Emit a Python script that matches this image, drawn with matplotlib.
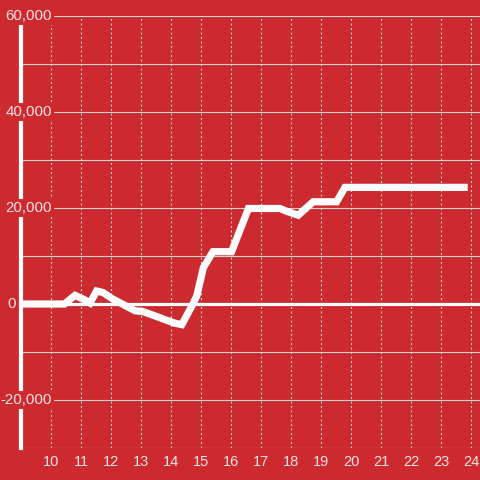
import matplotlib
matplotlib.use("Agg")
import matplotlib.pyplot as plt
import matplotlib.transforms as mtransforms

# Data
x_vals = [9.0, 10.45, 10.8, 11.08, 11.3, 11.52, 11.73, 12.07, 12.8, 13.07, 13.52, 13.73,
          14.13, 14.36, 14.73, 14.86, 15.08, 15.4, 16.02, 16.58, 17.63, 17.86, 18.24,
          18.74, 19.52, 19.8, 23.89]
y_vals = [0, 0, 1800, 1000, 200, 2700, 2400, 1000, -1400, -1600, -2600, -3100,
          -4000, -4300, 0, 1700, 7600, 10900, 10900, 19900, 19900, 19300, 18500,
          21300, 21300, 24300, 24300]
x_ticks = list(range(10, 25))
y_major = [60000, 40000, 20000, 0, -20000]
y_labels = ["60,000", "40,000", "20,000", "0", "-20,000"]
y_grid = [60000, 50000, 40000, 30000, 20000, 10000, -10000, -20000, -30000]

BG = "#cc2a2f"
TXT = "#f6e4e4"
GRID = "#d6d0d0"

plt.rcParams["font.family"] = ["Liberation Sans", "DejaVu Sans"]
plt.rcParams["lines.scale_dashes"] = False

fig = plt.figure(figsize=(4.8, 4.8), dpi=100, facecolor=BG)
ax = fig.add_axes([21/480, 32/480, 1 - 21/480, (448-16)/480])
ax.set_facecolor(BG)
ax.set_xlim(9, 24.3)
ax.set_ylim(-30000, 60000)

for v in y_grid:
    ax.axhline(v, color=GRID, lw=0.8, zorder=1)
for xv in x_ticks:
    ax.axvline(xv, color=GRID, lw=0.8, linestyle=(0, (1.44, 1.8)), zorder=1)
ax.axhline(0, color="white", lw=2.3, zorder=2)

for s in ["top", "right", "bottom"]:
    ax.spines[s].set_visible(False)
ax.spines["left"].set_color("white")
ax.spines["left"].set_linewidth(3)
ax.spines["left"].set_zorder(3)

ax.plot(x_vals, y_vals, color="white", lw=5.2, zorder=4,
        solid_joinstyle="miter", solid_capstyle="butt")

ax.set_xticks(x_ticks)
ax.set_xticklabels([str(t) for t in x_ticks], color=TXT, fontsize=10.5)
ax.tick_params(axis="x", length=0, pad=5)
ax.set_yticks([])

trans = mtransforms.blended_transform_factory(ax.transAxes, ax.transData)
for v, lab in zip(y_major, y_labels):
    if lab == "0":
        xpos = (16 - 21) / 459
    else:
        xpos = (52 - 21) / 459
    ax.text(xpos, v, lab, transform=trans, ha="right", va="center", color=TXT,
            fontsize=10.8, zorder=6, clip_on=False,
            bbox=dict(facecolor=BG, edgecolor="none", pad=1.2))

fig.savefig("out.png", dpi=100, facecolor=BG)
